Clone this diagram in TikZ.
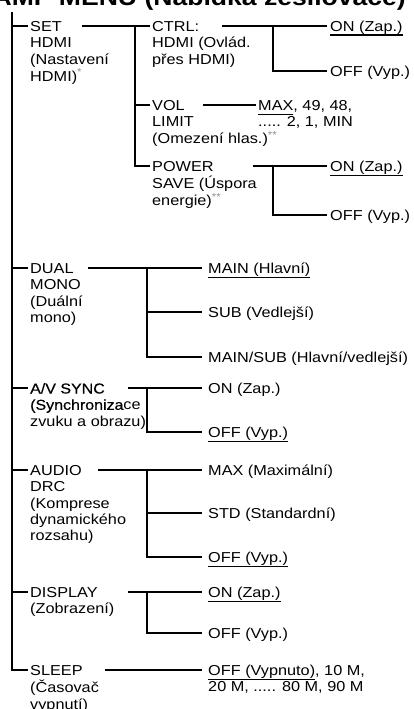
\documentclass[tikz,border=0pt]{standalone}
\usepackage{fontspec}
\setmainfont{Liberation Sans}[FakeStretch=1.13]
\newfontface\semib{Liberation Sans}[FakeStretch=1.11,FakeBold=0.5]
\newsavebox\ulbox
\newcommand{\ulin}[1]{\sbox\ulbox{#1}\rlap{\vrule height -3pt depth 4.6pt width \wd\ulbox}\usebox\ulbox}
\newcommand{\ml}[1]{\begin{tabular}[t]{@{}l@{}}#1\end{tabular}}
\newcommand{\astr}[1]{\textsuperscript{\color{black!45}#1}}
\tikzset{
  txt/.style={inner sep=0pt, anchor=base west, font=\fontsize{14.4}{16.3}\selectfont},
  conn/.style={line width=1.9pt},
  ttl/.style={inner sep=0pt, anchor=base east, font=\bfseries\fontsize{23.5}{28}\selectfont}
}
\begin{document}
\begin{tikzpicture}[x=1pt,y=-1pt]
\clip (0,0) rectangle (414,709);
\node[ttl] (title) at (406,5.5) {AMP MENU (Nabídka zesilovače)};

% main trunk
\coordinate (t0) at (12,12);
\coordinate (t6) at (12,670);
\draw[conn] (t0) -- (t6) -- (28,670);
\foreach \yy in {26,268,388,470,592} \draw[conn] (12,\yy) -- (28,\yy);

% level 1 labels
\node[txt] (set) at (30,31.5) {\ml{SET\\HDMI\\(Nastavení\\HDMI)\astr{*}}};
\node[txt] (dual) at (30,273.5) {\ml{DUAL\\MONO\\(Duální\\mono)}};
\node[txt] (av) at (30,393.5) {\ml{{\semib A/V SYNC}\\{\semib (Synchroniza}ce\\zvuku a obrazu)}};
\node[txt] (drc) at (30,475.5) {\ml{AUDIO\\DRC\\(Komprese\\dynamického\\rozsahu)}};
\node[txt] (disp) at (30,597.5) {\ml{DISPLAY\\(Zobrazení)}};
\node[txt] (sleep) at (30,675.5) {\ml{SLEEP\\(Časovač\\vypnutí)}};

% SET HDMI subtree
\draw[conn] (82,26) -- (150,26);
\draw[conn] (135,26) -- (135,166) -- (150,166);
\draw[conn] (135,105) -- (150,105);
\node[txt] (ctrl) at (152,31.5) {\ml{CTRL:\\HDMI (Ovlád.\\přes HDMI)}};
\node[txt] (vol) at (152,110.5) {\ml{VOL\\LIMIT\\(Omezení hlas.)\astr{**}}};
\node[txt] (pow) at (152,171.5) {\ml{POWER\\SAVE (Úspora\\energie)\astr{**}}};

\draw[conn] (222,26) -- (327,26);
\draw[conn] (273,26) -- (273,71) -- (327,71);
\node[txt] (ctrlon) at (330,31.5) {\ulin{ON (Zap.)}};
\node[txt] (ctrloff) at (330,76.5) {OFF (Vyp.)};

\draw[conn] (203,105) -- (256,105);
\node[txt] (volv) at (258,110.5) {\ml{\ulin{MAX}, 49, 48,\\..... 2, 1, MIN}};

\draw[conn] (253,166) -- (327,166);
\draw[conn] (273,166) -- (273,215) -- (327,215);
\node[txt] (powon) at (330,171.5) {\ulin{ON (Zap.)}};
\node[txt] (powoff) at (330,220.5) {OFF (Vyp.)};

% DUAL MONO
\draw[conn] (88,268) -- (202,268);
\draw[conn] (147,268) -- (147,357) -- (202,357);
\draw[conn] (147,312) -- (202,312);
\node[txt] (dmain) at (208,273.5) {\ulin{MAIN (Hlavní)}};
\node[txt] (dsub) at (208,317.5) {SUB (Vedlejší)};
\node[txt] (dms) at (208,362.5) {MAIN/SUB (Hlavní/vedlejší)};

% A/V SYNC
\draw[conn] (128,388) -- (202,388);
\draw[conn] (147,388) -- (147,432) -- (202,432);
\node[txt] (avon) at (208,393.5) {ON (Zap.)};
\node[txt] (avoff) at (208,437.5) {\ulin{OFF (Vyp.)}};

% AUDIO DRC
\draw[conn] (98,470) -- (202,470);
\draw[conn] (147,470) -- (147,557) -- (202,557);
\draw[conn] (147,513) -- (202,513);
\node[txt] (dmax) at (208,475.5) {MAX (Maximální)};
\node[txt] (dstd) at (208,518.5) {STD (Standardní)};
\node[txt] (doff) at (208,562.5) {\ulin{OFF (Vyp.)}};

% DISPLAY
\draw[conn] (128,592) -- (202,592);
\draw[conn] (147,592) -- (147,633) -- (202,633);
\node[txt] (dion) at (208,597.5) {\ulin{ON (Zap.)}};
\node[txt] (dioff) at (208,638.5) {OFF (Vyp.)};

% SLEEP
\draw[conn] (105,670) -- (202,670);
\node[txt] (slv) at (208,675.5) {\ml{\ulin{OFF (Vypnuto)}, 10 M,\\20 M, ..... 80 M, 90 M}};
\end{tikzpicture}
\end{document}
